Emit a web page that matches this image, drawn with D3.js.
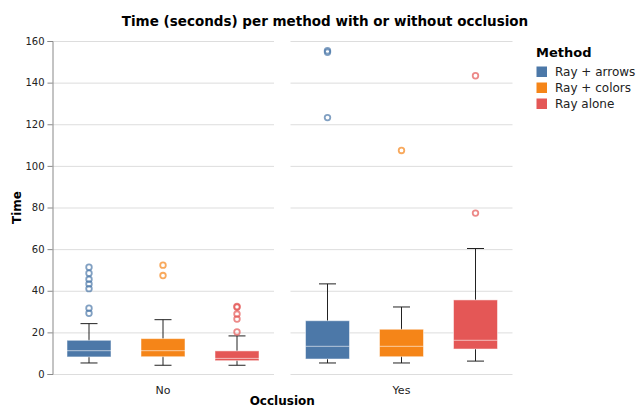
<!DOCTYPE html>
<html>
<head>
<meta charset="utf-8">
<script src="https://cdn.jsdelivr.net/npm/d3@7"></script>
<style>
  html, body { margin: 0; padding: 0; background: #fff; }
  svg { display: block; font-family: "DejaVu Sans", Verdana, sans-serif; }
</style>
</head>
<body>
<svg id="chart" width="640" height="408"></svg>
<script>
// Facets, methods and ticks
const occlusion = ["No", "Yes"];
const methods = ["Ray + arrows", "Ray + colors", "Ray alone"];
const colors = ["#4c78a8", "#f58518", "#e45756"];
const yTicks = [0, 20, 40, 60, 80, 100, 120, 140, 160];

// Box summaries: one row per occlusion level, one value per method
const whiskerLow = [[5.3, 4.2, 4.2], [5.3, 5.3, 6.2]];
const q1 =         [[8.2, 8.3, 6.4], [7.2, 8.3, 12.0]];
const median =     [[11.2, 11.2, 7.5], [13.3, 13.3, 16.2]];
const q3 =         [[16.2, 17.0, 11.1], [25.6, 21.5, 35.6]];
const whiskerHigh = [[24.2, 26.1, 18.3], [43.3, 32.2, 60.3]];

// Outlying times
const outliersNo = [
  [51.3, 48.4, 45.5, 43.3, 41.0, 31.6, 29.2],
  [52.3, 47.3],
  [32.4, 32.1, 28.8, 26.4, 20.2]
];
const outliersYes = [
  [155.3, 154.6, 123.2],
  [107.4],
  [143.3, 77.3]
];
const outliers = [outliersNo, outliersYes];

const svg = d3.select("#chart");

const plotTop = 41, plotBottom = 374;
const panelW = 222, panelGap = 16.5, left = 52;
const boxW = 44, capW = 17;

const y = d3.scaleLinear().domain([0, 160]).range([plotBottom, plotTop]);
const panelX = d3.scaleBand().domain(occlusion)
  .range([left, left + panelW * 2 + panelGap]).paddingInner(panelGap / (panelW + panelGap / 2) / 2);
const x = d3.scalePoint().domain(methods).range([0, panelW]).padding(0.5);

occlusion.forEach((occ, pi) => {
  const x0 = left + pi * (panelW + panelGap);
  const g = svg.append("g").attr("transform", `translate(${x0},0)`);

  // gridlines
  g.append("g").selectAll("line").data(yTicks).join("line")
    .attr("x1", 0).attr("x2", panelW)
    .attr("y1", d => y(d) + 0.5).attr("y2", d => y(d) + 0.5)
    .attr("stroke", "#ddd").attr("stroke-width", 1);

  methods.forEach((m, mi) => {
    const cx = x(m);
    const col = colors[mi];
    const mg = g.append("g");

    // whisker
    mg.append("line")
      .attr("x1", cx).attr("x2", cx)
      .attr("y1", y(whiskerLow[pi][mi])).attr("y2", y(whiskerHigh[pi][mi]))
      .attr("stroke", "#222").attr("stroke-width", 1);
    [whiskerLow[pi][mi], whiskerHigh[pi][mi]].forEach(v => {
      mg.append("line")
        .attr("x1", cx - capW / 2).attr("x2", cx + capW / 2)
        .attr("y1", y(v)).attr("y2", y(v))
        .attr("stroke", "#222").attr("stroke-width", 1);
    });

    // box
    mg.append("rect")
      .attr("x", cx - boxW / 2).attr("width", boxW)
      .attr("y", y(q3[pi][mi])).attr("height", y(q1[pi][mi]) - y(q3[pi][mi]))
      .attr("fill", col)
      .attr("stroke", "#fff").attr("stroke-opacity", 0.5).attr("stroke-width", 1);

    // median
    mg.append("line")
      .attr("x1", cx - boxW / 2).attr("x2", cx + boxW / 2)
      .attr("y1", y(median[pi][mi])).attr("y2", y(median[pi][mi]))
      .attr("stroke", "#fff").attr("stroke-opacity", 0.6).attr("stroke-width", 1);

    // outliers
    mg.selectAll("circle").data(outliers[pi][mi]).join("circle")
      .attr("cx", cx).attr("cy", d => y(d)).attr("r", 2.8)
      .attr("fill", "none").attr("stroke", col)
      .attr("stroke-width", 1.8).attr("stroke-opacity", 0.7);
  });

  // facet label
  svg.append("text")
    .attr("x", x0 + panelW / 2).attr("y", 394)
    .attr("text-anchor", "middle")
    .attr("font-size", 11).attr("fill", "#222")
    .text(occ);
});

// y axis
const yAxis = d3.axisLeft(y).tickValues(yTicks).tickSize(5).tickPadding(3);
const ya = svg.append("g").attr("transform", `translate(${left + 0.5},0)`).call(yAxis);
ya.select(".domain").attr("stroke", "#888");
ya.selectAll(".tick line").attr("stroke", "#888");
ya.selectAll(".tick text").attr("font-size", 10).attr("fill", "#222")
  .attr("font-family", "DejaVu Sans, Verdana, sans-serif");

// axis titles
svg.append("text")
  .attr("transform", `translate(21,${(plotTop + plotBottom) / 2}) rotate(-90)`)
  .attr("text-anchor", "middle")
  .attr("font-size", 12).attr("font-weight", "bold").attr("fill", "#000")
  .text("Time");

svg.append("text")
  .attr("x", left + panelW + panelGap / 2).attr("y", 405)
  .attr("text-anchor", "middle")
  .attr("font-size", 12).attr("font-weight", "bold").attr("fill", "#000")
  .text("Occlusion");

// chart title
svg.append("text")
  .attr("x", 325).attr("y", 26)
  .attr("text-anchor", "middle")
  .attr("font-size", 13.5).attr("font-weight", "bold").attr("fill", "#000")
  .text("Time (seconds) per method with or without occlusion");

// legend
const lg = svg.append("g").attr("transform", "translate(536,0)");
lg.append("text")
  .attr("x", 0).attr("y", 57)
  .attr("font-size", 13).attr("font-weight", "bold").attr("fill", "#000")
  .text("Method");
const rows = lg.selectAll("g.row").data(methods).join("g")
  .attr("class", "row")
  .attr("transform", (d, i) => `translate(0,${66.5 + i * 16})`);
rows.append("rect")
  .attr("x", 0.5).attr("y", 0).attr("width", 10.5).attr("height", 10.5)
  .attr("fill", (d, i) => colors[i]);
rows.append("text")
  .attr("x", 19).attr("y", 9.8)
  .attr("font-size", 12).attr("fill", "#222")
  .text(d => d);
</script>
</body>
</html>
